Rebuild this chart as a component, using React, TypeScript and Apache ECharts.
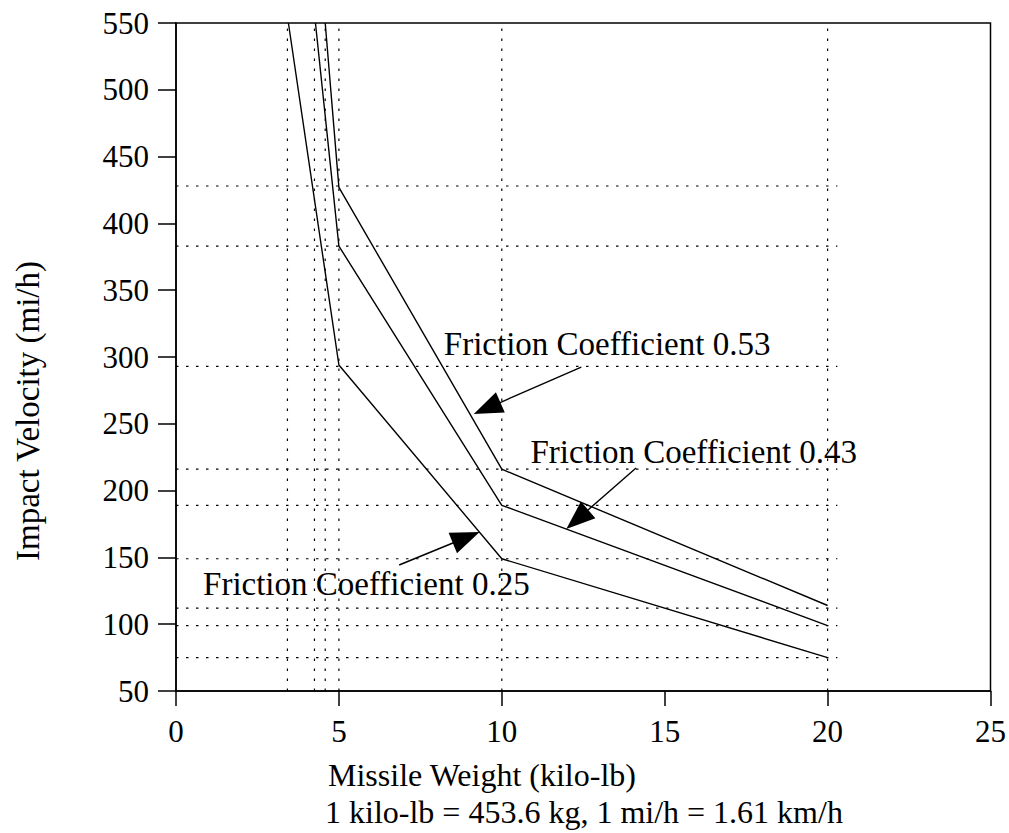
import React, { useEffect, useRef } from "react";
import * as echarts from "echarts";

const FONT = '"Liberation Serif", "Times New Roman", serif';

// Curves (missile weight in kilo-lb, impact velocity in mi/h)
const weight053 = [4.58, 5, 10, 20];
const velocity053 = [550, 427, 216, 114];
const weight043 = [4.28, 5, 10, 20];
const velocity043 = [550, 383, 189, 99];
const weight025 = [3.45, 5, 10, 20];
const velocity025 = [550, 294, 149, 75];

// Dotted guide lines
const guideVelocities = [428, 383, 293, 216, 189, 149, 112, 99, 75];
const guideWeights = [3.42, 4.25, 4.58, 5, 10, 20];
const guideWeightEnd = 20.3;

// Axis settings
const xMin = 0, xMax = 25, xStep = 5;
const yMin = 50, yMax = 550, yStep = 50;

// Annotations: label text, label anchor (left, middle) in data coords, arrow start and tip in data coords
const labelTexts = ["Friction Coefficient 0.53", "Friction Coefficient 0.43", "Friction Coefficient 0.25"];
const labelAnchors = [[8.22, 309.7], [10.88, 228.9], [0.83, 130.1]];
const arrowStarts = [[12.44, 292.5], [14.12, 216.9], [6.85, 144.3]];
const arrowTips = [[9.14, 257.3], [11.98, 171.3], [9.32, 169.0]];

const xTitle = "Missile Weight (kilo-lb)";
const xNote = "1 kilo-lb = 453.6 kg, 1 mi/h = 1.61 km/h";
const yTitle = "Impact Velocity (mi/h)";

const zip = (xs: number[], ys: number[]) => xs.map((x, i) => [x, ys[i]]);

export default function App() {
  const ref = useRef<HTMLDivElement>(null);
  useEffect(() => {
    if (!ref.current) return;
    const chart = echarts.init(ref.current, null, { renderer: "svg" });
    const curveStyle = { color: "#000", width: 1.4 };
    const dotted = { color: "#000", width: 1.2, type: [2.5, 7.5] as number[] };
    const series: any[] = [];
    guideVelocities.forEach((v) => {
      series.push({
        type: "line", data: [[xMin, v], [guideWeightEnd, v]], symbol: "none",
        lineStyle: dotted, silent: true, z: 1,
      });
    });
    guideWeights.forEach((w) => {
      series.push({
        type: "line", data: [[w, yMin], [w, yMax]], symbol: "none",
        lineStyle: dotted, silent: true, z: 1,
      });
    });
    [
      zip(weight053, velocity053),
      zip(weight043, velocity043),
      zip(weight025, velocity025),
    ].forEach((d, i) => {
      series.push({
        name: labelTexts[i], type: "line", data: d, symbol: "none",
        lineStyle: curveStyle, z: 3,
      });
    });

    chart.setOption({
      animation: false,
      backgroundColor: "#fff",
      grid: {
        left: 176, top: 23, right: 15, bottom: 142,
        show: true, borderColor: "#000", borderWidth: 1.5, backgroundColor: "transparent",
      },
      xAxis: {
        type: "value", min: xMin, max: xMax, interval: xStep,
        axisLine: { lineStyle: { color: "#000", width: 1.5 } },
        axisTick: { inside: false, length: 15, lineStyle: { color: "#000", width: 1.5 } },
        axisLabel: { color: "#000", fontFamily: FONT, fontSize: 31, margin: 25 },
        splitLine: { show: false },
      },
      yAxis: {
        type: "value", min: yMin, max: yMax, interval: yStep,
        axisLine: { lineStyle: { color: "#000", width: 1.5 } },
        axisTick: { inside: false, length: 18, lineStyle: { color: "#000", width: 1.5 } },
        axisLabel: { color: "#000", fontFamily: FONT, fontSize: 31, margin: 27 },
        splitLine: { show: false },
      },
      series,
    });

    const px = (p: number[]) => chart.convertToPixel({ gridIndex: 0 }, p) as number[];
    const graphics: any[] = [];
    labelTexts.forEach((t, i) => {
      const a = px(labelAnchors[i]);
      graphics.push({
        type: "text", x: a[0], y: a[1], z: 10,
        style: { text: t, fill: "#000", font: `33px ${FONT}`, align: "left", verticalAlign: "middle" },
      });
      const s = px(arrowStarts[i]);
      const tip = px(arrowTips[i]);
      const dx = tip[0] - s[0], dy = tip[1] - s[1];
      const len = Math.hypot(dx, dy);
      const ux = dx / len, uy = dy / len;
      const L = 29, W = 22;
      const bx = tip[0] - ux * L, by = tip[1] - uy * L;
      const nx = -uy, ny = ux;
      graphics.push({
        type: "line", z: 10,
        shape: { x1: s[0], y1: s[1], x2: bx + ux * 4, y2: by + uy * 4 },
        style: { stroke: "#000", lineWidth: 1.4 },
      });
      graphics.push({
        type: "polygon", z: 10,
        shape: { points: [[tip[0], tip[1]], [bx + nx * W / 2, by + ny * W / 2], [bx - nx * W / 2, by - ny * W / 2]] },
        style: { fill: "#000" },
      });
    });
    graphics.push({
      type: "text", x: 328, y: 775, z: 10,
      style: { text: xTitle, fill: "#000", font: `32px ${FONT}`, align: "left", verticalAlign: "middle" },
    });
    graphics.push({
      type: "text", x: 325, y: 812, z: 10,
      style: { text: xNote, fill: "#000", font: `32px ${FONT}`, align: "left", verticalAlign: "middle" },
    });
    graphics.push({
      type: "text", x: 28, y: 411, rotation: Math.PI / 2, z: 10,
      style: { text: yTitle, fill: "#000", font: `33px ${FONT}`, align: "center", verticalAlign: "middle" },
    });
    chart.setOption({ graphic: graphics });

    return () => chart.dispose();
  }, []);
  return (
    <div
      ref={ref}
      style={{ position: "fixed", left: 0, top: 0, width: 1009, height: 833, background: "#fff" }}
    />
  );
}
